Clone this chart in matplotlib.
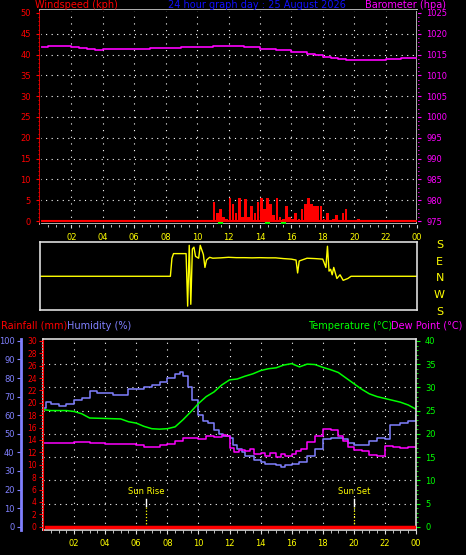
import matplotlib
matplotlib.use("Agg")
import matplotlib.pyplot as plt
import numpy as np

# ---- data ----
gust_hours = [11.0, 11.2, 11.4, 11.6, 11.8, 12.0, 12.2, 12.4, 12.6, 12.8, 13.0, 13.2, 13.4, 13.6, 13.8,
              14.0, 14.2, 14.4, 14.6, 14.8, 15.0, 15.2, 15.4, 15.6, 15.8, 16.0, 16.2, 16.4, 16.6, 16.8,
              17.0, 17.2, 17.4, 17.6, 17.8, 18.0, 18.2, 18.4, 18.6, 18.8, 19.0, 19.2, 19.4, 19.6, 20.2]
gust_kph = [4.5, 2.0, 3.0, 1.0, 0.5, 5.5, 4.0, 2.0, 5.5, 1.0, 5.2, 1.0, 3.5, 2.0, 4.5,
            5.5, 3.0, 5.5, 4.0, 1.5, 5.5, 1.0, 0.5, 3.5, 1.0, 0.5, 2.0, 0.5, 3.0, 4.0,
            5.5, 4.0, 3.5, 3.5, 3.5, 0.5, 2.0, 0.3, 0.5, 1.5, 0.3, 2.0, 3.0, 0.3, 0.5]
calm_marks = [11.5, 14.5, 15.5]

baro_hours = [0, 0.5, 1, 1.5, 2, 2.5, 3, 3.5, 4, 5, 6, 7, 8, 9, 10, 11, 12, 13, 14, 15, 16, 17,
              17.5, 18, 18.5, 19, 19.5, 20, 20.5, 21, 22, 23, 24]
baro_hpa = [1016.8, 1017.1, 1017.1, 1017.0, 1016.9, 1016.6, 1016.3, 1016.1, 1016.3, 1016.4, 1016.4,
            1016.5, 1016.6, 1016.8, 1016.9, 1017.0, 1017.0, 1016.7, 1016.4, 1016.0, 1015.6, 1015.2,
            1014.8, 1014.4, 1014.2, 1014.0, 1013.8, 1013.7, 1013.7, 1013.8, 1014.0, 1014.2, 1014.1]

dir_hours = [0, 8.3, 8.4, 8.5, 9.3, 9.4, 9.5, 9.6, 9.7, 9.8, 9.9, 10.1, 10.2, 10.4, 10.5, 10.6, 10.8,
             11, 11.5, 12, 12.5, 13, 13.5, 14, 14.5, 15, 15.5, 16, 16.3, 16.4, 16.5, 17, 17.5, 18,
             18.2, 18.3, 18.4, 18.5, 18.6, 18.7, 18.9, 19.1, 19.3, 19.6, 19.8, 20, 24]
dir_deg = [12, 12, 110, 135, 135, -150, 180, -140, 160, 170, 120, 110, 180, 130, 60, 100, 115,
           110, 112, 115, 113, 113, 112, 113, 112, 112, 108, 105, 100, 30, 95, 110, 108, 105,
           60, 175, 40, 50, 20, 60, 0, 20, -10, 0, 12, 12, 12]
dir_ticks = [180, 90, 0, -90, -180]
dir_labels = ["S", "E", "N", "W", "S"]

temp_hours = [0, 0.5, 1, 1.5, 2, 2.5, 3, 4, 5, 5.5, 6, 6.5, 7, 7.5, 8, 8.5, 9, 9.5, 10, 10.5, 11,
              11.5, 12, 12.5, 13, 13.5, 14, 14.5, 15, 15.5, 16, 16.5, 17, 17.5, 18, 18.5, 19, 19.5,
              20, 20.5, 21, 21.5, 22, 22.5, 23, 23.5, 24]
temp_c = [25.2, 25.0, 25.0, 25.0, 24.8, 24.3, 23.4, 23.3, 23.2, 22.6, 22.3, 21.6, 21.1, 21.0, 21.1,
          21.5, 23.0, 24.7, 26.5, 28.0, 29.0, 30.5, 31.6, 31.8, 32.4, 32.9, 33.6, 34.0, 34.2, 34.8,
          35.1, 34.4, 35.0, 34.9, 34.3, 33.8, 33.2, 32.0, 30.8, 29.6, 28.6, 28.0, 27.6, 27.2, 26.8,
          26.2, 25.3]

dew_hours = [0, 1, 2, 3, 4, 5, 6, 6.5, 7, 7.5, 8, 8.5, 9, 9.5, 10, 10.5, 11, 11.5, 11.8, 12, 12.3,
             12.6, 13, 13.3, 13.6, 14, 14.3, 14.6, 15, 15.3, 15.6, 16, 16.3, 16.6, 17, 17.5, 18,
             18.5, 19, 19.3, 19.6, 20, 20.5, 21, 21.5, 22, 22.5, 23, 23.5, 24]
dew_c = [18.1, 18.1, 18.2, 18.0, 17.9, 17.8, 17.6, 17.2, 17.2, 17.5, 17.8, 18.5, 19.0, 19.2, 18.9,
         19.5, 19.3, 19.8, 19.6, 17.0, 16.0, 16.6, 16.2, 16.8, 15.6, 15.9, 15.2, 15.8, 15.1, 15.7,
         15.3, 15.6, 16.2, 16.8, 18.2, 19.5, 21.0, 20.8, 19.6, 18.5, 17.2, 16.6, 16.2, 15.4, 15.3,
         17.3, 17.2, 16.9, 17.1, 17.0]

hum_hours = [0, 0.2, 0.5, 1, 1.5, 2, 2.5, 3, 3.5, 4, 4.5, 5, 5.5, 6, 6.5, 7, 7.5, 8, 8.5, 8.8, 9,
             9.3, 9.6, 10, 10.3, 10.6, 11, 11.3, 11.6, 12, 12.2, 12.5, 12.8, 13, 13.3, 13.6, 14,
             14.3, 14.6, 15, 15.3, 15.6, 16, 16.5, 17, 17.5, 18, 18.5, 19, 19.3, 19.6, 20, 20.5,
             21, 21.5, 22, 22.3, 23, 23.5, 24]
hum_pct = [64, 67, 66, 65, 66, 68, 69, 73, 72, 72, 71, 71, 74, 74, 75, 76, 78, 80, 82, 83, 81, 75,
           68, 60, 57, 56, 52, 50, 49, 48, 44, 42, 40, 38, 38, 36, 35, 34, 34, 33, 32, 33, 34, 35,
           38, 42, 47, 48, 48, 47, 45, 44, 44, 46, 48, 47, 55, 56, 57, 60]

rain_hours = [0.2, 24]
rain_mm = [0, 0]

sun_rise = 6.65
sun_set = 20.0

hour_ticks = list(range(2, 25, 2))
hour_labels = ["%02d" % (h % 24) for h in hour_ticks]

# ---- styling ----
W, H = 466, 555
BG = "black"
YEL = "#ffff00"
RED = "#ff0000"
MAG = "#ff00ff"
GRN = "#00ff00"
HUM = "#8080ff"
FS = 6
TFS = 7


def frac(x0, y0, x1, y1):
    return [x0 / W, 1 - y1 / H, (x1 - x0) / W, (y1 - y0) / H]


def style_ax(ax):
    ax.set_facecolor(BG)
    for s in ax.spines.values():
        s.set_color("#dddddd")
        s.set_linewidth(1.2)
    ax.set_xlim(0, 24)
    ax.set_xticks(hour_ticks)
    ax.set_xticklabels(hour_labels, color=YEL, fontsize=FS)
    ax.set_xticks(np.arange(0.5, 24, 0.5), minor=True)
    ax.tick_params(axis="x", which="both", colors="#dddddd", labelcolor=YEL, length=3)
    ax.tick_params(axis="x", which="minor", length=2)


def dotted_grid(ax, ys):
    for h in hour_ticks:
        ax.axvline(h, color="white", ls=(0, (1, 5)), lw=0.8, zorder=0)
    for y in ys:
        ax.axhline(y, color="white", ls=(0, (1, 4)), lw=0.8, zorder=0)


fig = plt.figure(figsize=(W / 100, H / 100), dpi=100, facecolor=BG)

# ---- top panel: wind + barometer ----
ax1 = fig.add_axes(frac(40, 10, 417, 224))
style_ax(ax1)
ax1.set_ylim(-0.72, 50.7)
dotted_grid(ax1, range(5, 50, 5))
ax1.bar(gust_hours, gust_kph, width=0.17, align="edge", color=RED, zorder=3)
ax1.axhline(0, color=RED, lw=1.5, zorder=3)
for h in calm_marks:
    ax1.plot([h - 0.1, h + 0.1], [-0.4, -0.4], color=GRN, lw=1.5, zorder=4, clip_on=False)

ax1b = ax1.twinx()
ax1b.set_ylim(975 - 0.72, 1025.7)
ax1b.set_yticks(range(975, 1026, 5))
ax1b.set_yticks(range(975, 1026, 1), minor=True)
ax1b.tick_params(axis="y", which="both", colors=MAG, labelsize=FS, length=3)
ax1b.tick_params(axis="y", which="minor", length=1.5)
ax1b.plot(baro_hours, baro_hpa, color=MAG, lw=1.2, drawstyle="steps-post")

ax1.yaxis.tick_left()
ax1.set_yticks(range(0, 51, 5))
ax1.set_yticks(range(0, 51, 1), minor=True)
ax1.tick_params(axis="y", which="both", colors=RED, labelsize=FS, length=3)
ax1.tick_params(axis="y", which="minor", length=1.5)
ax1.spines["left"].set_color(RED)

fig.text(35 / W, 1 - 5 / H, "Windspeed (kph)", color=RED, fontsize=TFS, va="center")
fig.text(257 / W, 1 - 5 / H, "24 hour graph day : 25 August 2026", color="#1010ff",
         fontsize=TFS, ha="center", va="center")
fig.text(446 / W, 1 - 5 / H, "Barometer (hpa)", color=MAG, fontsize=TFS, ha="right", va="center")

# ---- wind direction panel ----
ax2 = fig.add_axes(frac(40, 242, 417, 310))
ax2.set_facecolor(BG)
for s in ax2.spines.values():
    s.set_color("#dddddd")
    s.set_linewidth(1.2)
ax2.set_xlim(0, 24)
ax2.set_ylim(-171, 198)
ax2.set_xticks([])
ax2.set_yticks([])
ax2.plot(dir_hours, dir_deg, color=YEL, lw=1)
for d, lab in zip(dir_ticks, dir_labels):
    ax2.text(1.06, d, lab, color=YEL, fontsize=8, ha="center", va="center",
             transform=ax2.get_yaxis_transform())

# ---- bottom panel: temperature / dew / humidity / rain ----
ax3 = fig.add_axes(frac(43, 339, 416, 530))
style_ax(ax3)
ax3.set_ylim(-0.7, 40.4)
dotted_grid(ax3, range(5, 40, 5))

ax_rain = ax3.twinx()
ax_hum = ax3.twinx()

ax3.yaxis.tick_right()
ax3.set_yticks(range(0, 41, 5))
ax3.set_yticks(range(0, 41, 1), minor=True)
ax3.tick_params(axis="y", which="both", colors=GRN, labelsize=FS, length=3)
ax3.tick_params(axis="y", which="minor", length=1.5)
ax3.plot(hum_hours, np.array(hum_pct) * 0.4, color=HUM, lw=1.1, drawstyle="steps-post")
ax3.plot(temp_hours, temp_c, color=GRN, lw=1.1)
ax3.plot(dew_hours, dew_c, color=MAG, lw=1.1, drawstyle="steps-post")
ax3.plot(rain_hours, np.array(rain_mm) * 40 / 30, color=RED, lw=2.5, zorder=4)
for h, lab in [(sun_rise, "Sun Rise"), (sun_set, "Sun Set")]:
    ax3.plot([h, h], [0, 4.5], color=YEL, ls=(0, (1, 1.5)), lw=0.9)
    ax3.plot([h, h], [4.5, 6], color="white", lw=1)
    ax3.text(h, 6.6, lab, color=YEL, fontsize=FS, ha="center", va="bottom")

ax_rain.yaxis.tick_left()
for s in ["top", "right", "bottom"]:
    ax_rain.spines[s].set_visible(False)
ax_rain.set_ylim(-0.7 * 30 / 40, 40.4 * 30 / 40)
ax_rain.set_yticks(range(0, 31, 2))
ax_rain.set_yticks(np.arange(0, 30.1, 0.5), minor=True)
ax_rain.tick_params(axis="y", which="both", colors=RED, labelsize=FS - 0.5, length=3, pad=1.5)
ax_rain.tick_params(axis="y", which="minor", length=1.5)
ax_rain.spines["left"].set_color(RED)
ax_rain.spines["left"].set_linestyle((0, (1, 1)))

ax_hum.yaxis.tick_left()
ax_hum.spines["left"].set_position(("outward", 16))
ax_hum.spines["left"].set_color(HUM)
ax_hum.spines["left"].set_linewidth(2)
for s in ["top", "right", "bottom"]:
    ax_hum.spines[s].set_visible(False)
ax_hum.set_ylim(-0.7 * 2.5, 40.4 * 2.5)
ax_hum.set_yticks(range(0, 101, 10))
ax_hum.tick_params(axis="y", colors=HUM, labelsize=FS, length=3, pad=1.5)

fig.text(1 / W, 1 - 326 / H, "Rainfall (mm)", color=RED, fontsize=TFS, va="center")
fig.text(67 / W, 1 - 326 / H, "Humidity (%)", color=HUM, fontsize=TFS, va="center")
fig.text(392 / W, 1 - 326 / H, "Temperature (°C)", color=GRN, fontsize=TFS, ha="right", va="center")
fig.text(462 / W, 1 - 326 / H, "Dew Point (°C)", color=MAG, fontsize=TFS, ha="right", va="center")

fig.savefig("out.png", dpi=100, facecolor=BG)
